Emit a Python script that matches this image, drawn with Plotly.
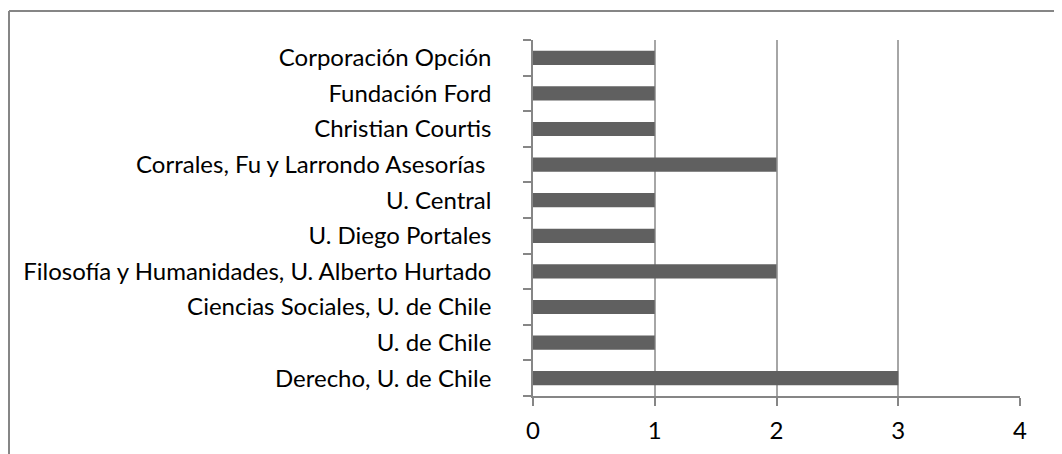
import plotly.graph_objects as go

categories = [
    "Derecho, U. de Chile",
    "U. de Chile",
    "Ciencias Sociales, U. de Chile",
    "Filosofía y Humanidades, U. Alberto Hurtado",
    "U. Diego Portales",
    "U. Central",
    "Corrales, Fu y Larrondo Asesorías\u00a0",
    "Christian Courtis",
    "Fundación Ford",
    "Corporación Opción",
]
values = [3, 1, 1, 2, 1, 1, 2, 1, 1, 1]
x_ticks = [0, 1, 2, 3, 4]

# page body adds an 8px offset; compensate
OFF = 8
W, H = 1062, 454
L, T = 533 - OFF, 40 - OFF
R = W - (1020 - OFF)
B = H - (396 - OFF)
pw, ph = W - L - R, H - T - B

fig = go.Figure(go.Bar(
    x=values, y=categories, orientation="h",
    marker=dict(color="#606060", line=dict(width=0)),
    width=0.4,
))

axis_col = "#868686"
font = dict(family="Lato", size=24, color="#000000")

fig.update_layout(
    width=W, height=H,
    margin=dict(l=L, r=R, t=T, b=B, pad=0),
    paper_bgcolor="white", plot_bgcolor="white",
    showlegend=False,
    font=font,
    xaxis=dict(
        range=[0, 4], tickvals=x_ticks, ticktext=[str(v) for v in x_ticks],
        showgrid=True, gridcolor="#a6a6a6", gridwidth=1.5,
        showline=True, linecolor=axis_col, linewidth=1.5,
        ticks="outside", ticklen=8, tickcolor=axis_col, tickwidth=1.5,
        zeroline=False, ticklabelstandoff=4, tickfont=font,
    ),
    yaxis=dict(
        type="category", categoryorder="array", categoryarray=categories,
        range=[-0.5, len(categories) - 0.5],
        showgrid=False, showline=True, linecolor=axis_col, linewidth=1.5,
        ticks="outside", ticklen=8, tickcolor=axis_col, tickwidth=1.5,
        tickson="boundaries", ticklabelstandoff=35, tickfont=font,
        zeroline=False,
    ),
)

# chart-area border (top and left edges visible)
bx0 = (9 - OFF - L) / pw
by0 = (H - B - (11 - OFF)) / ph
fig.add_shape(type="line", xref="paper", yref="paper",
              x0=bx0, x1=(W + 10 - L) / pw, y0=by0, y1=by0,
              line=dict(color=axis_col, width=2))
fig.add_shape(type="line", xref="paper", yref="paper",
              x0=bx0, x1=bx0, y0=by0, y1=(H - B - H - 10) / ph,
              line=dict(color=axis_col, width=2))

fig.write_html("out.html")
